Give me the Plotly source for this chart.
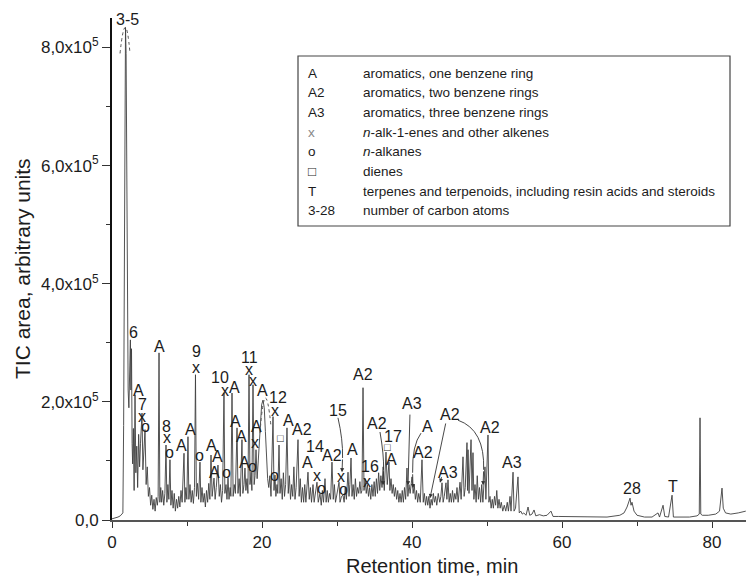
import plotly.graph_objects as go

# ---------------------------------------------------------------- data
# Total ion current of the pyrolysate; retention time in minutes,
# intensity in units of 1e5 (arbitrary TIC area units).
rt_min = [
    0.0, 0.4, 0.8, 1.1, 1.3, 1.45, 1.55, 1.65, 1.75, 1.8,
    1.88, 1.95, 2.05, 2.15, 2.25, 2.35, 2.45, 2.52, 2.6, 2.68,
    2.75, 2.85, 2.95, 3.07, 3.18, 3.3, 3.42, 3.55, 3.68, 3.8,
    4.0, 4.12, 4.25, 4.4, 4.55, 4.7, 4.85, 5.0, 5.15, 5.3,
    5.45, 5.6, 5.75, 5.9, 6.05, 6.15, 6.27, 6.38, 6.5, 6.62,
    6.75, 6.9, 7.05, 7.2, 7.32, 7.45, 7.58, 7.73, 7.85, 8.0,
    8.15, 8.3, 8.45, 8.6, 8.75, 8.9, 9.05, 9.2, 9.35, 9.6,
    9.72, 9.85, 9.98, 10.13, 10.25, 10.4, 10.55, 10.7, 10.85, 11.0,
    11.13, 11.25, 11.4, 11.55, 11.73, 11.85, 12.0, 12.15, 12.3, 12.45,
    12.6, 12.75, 12.9, 13.05, 13.2, 13.35, 13.6, 13.75, 13.9, 14.13,
    14.3, 14.45, 14.6, 14.75, 14.93, 15.05, 15.2, 15.33, 15.47, 15.6,
    15.75, 15.85, 16.0, 16.15, 16.3, 16.45, 16.67, 16.8, 16.95, 17.1,
    17.33, 17.45, 17.6, 17.73, 17.85, 18.0, 18.12, 18.27, 18.4, 18.55,
    18.65, 18.8, 18.95, 19.07, 19.2, 19.35, 19.5, 19.65, 19.8, 19.95,
    20.13, 20.3, 20.45, 20.6, 20.75, 20.9, 21.05, 21.2, 21.47, 21.6,
    21.73, 21.85, 22.0, 22.1, 22.27, 22.4, 22.55, 22.7, 22.85, 23.0,
    23.15, 23.33, 23.5, 23.65, 23.8, 23.95, 24.1, 24.25, 24.4, 24.55,
    24.8, 24.95, 25.1, 25.25, 25.4, 25.55, 25.7, 25.85, 26.13, 26.3,
    26.45, 26.6, 26.8, 26.95, 27.1, 27.33, 27.5, 27.73, 27.9, 28.05,
    28.2, 28.4, 28.55, 28.7, 28.85, 29.0, 29.15, 29.33, 29.5, 29.65,
    29.8, 30.0, 30.27, 30.4, 30.6, 30.8, 30.95, 31.1, 31.25, 31.47,
    31.6, 31.72, 31.87, 32.0, 32.15, 32.3, 32.45, 32.6, 32.75, 32.9,
    33.05, 33.2, 33.33, 33.47, 33.6, 33.75, 33.9, 34.05, 34.2, 34.35,
    34.5, 34.65, 34.8, 34.95, 35.1, 35.25, 35.4, 35.55, 35.7, 35.85,
    36.0, 36.15, 36.3, 36.53, 36.7, 36.93, 37.05, 37.2, 37.35, 37.5,
    37.65, 37.8, 37.95, 38.1, 38.25, 38.4, 38.55, 38.7, 38.85, 39.0,
    39.15, 39.33, 39.45, 39.6, 39.75, 40.0, 40.15, 40.3, 40.45, 40.6,
    40.75, 40.9, 41.1, 41.33, 41.5, 41.65, 41.8, 41.95, 42.1, 42.25,
    42.4, 42.55, 42.7, 42.85, 43.0, 43.15, 43.3, 43.5, 43.7, 43.85,
    44.0, 44.15, 44.3, 44.53, 44.65, 44.8, 44.95, 45.1, 45.25, 45.4,
    45.55, 45.7, 45.85, 46.0, 46.15, 46.4, 46.55, 46.8, 46.95, 47.1,
    47.33, 47.4, 47.47, 47.6, 47.87, 48.0, 48.13, 48.25, 48.4, 48.55,
    48.7, 48.85, 49.0, 49.15, 49.3, 49.45, 49.73, 49.85, 50.13, 50.25,
    50.4, 50.55, 50.7, 50.85, 51.0, 51.15, 51.3, 51.45, 51.6, 51.75,
    51.9, 52.1, 52.3, 52.5, 52.7, 52.85, 53.07, 53.2, 53.47, 53.6,
    53.8, 54.13, 54.3, 54.5, 54.7, 54.9, 55.2, 55.47, 55.7, 56.0,
    56.27, 56.5, 57.0, 57.5, 58.0, 58.53, 58.8, 59.5, 60.5, 62.0,
    64.0, 66.0, 67.7, 68.27, 68.67, 68.93, 69.07, 69.2, 69.33, 69.6,
    70.0, 71.0, 72.0, 72.8, 73.0, 73.47, 73.7, 74.2, 74.67, 74.85,
    75.5, 76.0, 77.0, 78.0, 78.3, 78.4, 78.5, 78.7, 79.5, 80.5,
    81.0, 81.33, 81.5, 81.8, 82.5, 83.5, 84.5,
]
tic_e5 = [
    0.02, 0.03, 0.05, 0.07, 0.09, 0.12, 1.6, 5.8, 8.1, 8.34,
    7.9, 6.0, 3.4, 2.2, 1.9, 2.6, 3.05, 2.2, 2.9, 1.3,
    0.95, 1.55, 0.5, 2.12, 0.8, 1.25, 0.55, 1.45, 0.9, 1.3,
    1.81, 0.85, 1.2, 1.53, 0.6, 0.9, 0.4, 0.55, 0.25, 0.42,
    0.18, 0.35, 0.15, 0.38, 0.25, 0.4, 2.83, 0.3, 0.55, 0.3,
    0.5, 0.25, 0.45, 1.27, 0.3, 0.6, 0.35, 1.02, 0.25, 0.5,
    0.2, 0.45, 0.15, 0.35, 0.2, 0.4, 0.22, 0.5, 0.3, 1.13,
    0.3, 0.55, 0.35, 1.41, 0.35, 0.6, 0.3, 0.5, 0.28, 0.55,
    2.46, 0.4, 0.62, 0.35, 0.98, 0.3, 0.55, 0.3, 0.45, 0.22,
    0.5, 0.3, 0.62, 0.35, 1.1, 0.4, 0.71, 0.35, 0.55, 0.93,
    0.4, 0.6, 0.3, 0.5, 2.15, 0.45, 0.6, 0.35, 0.71, 0.35,
    0.55, 0.4, 2.15, 0.4, 0.6, 0.45, 1.56, 0.45, 0.7, 0.4,
    1.36, 0.45, 0.6, 0.88, 0.5, 0.7, 0.45, 2.46, 0.6, 0.81,
    0.5, 2.29, 0.6, 0.75, 1.19, 0.7, 1.0, 1.3, 1.7, 1.95,
    2.03, 1.9, 1.5, 1.0, 0.7, 0.55, 0.75, 0.4, 1.75, 0.5,
    0.76, 0.4, 0.6, 0.45, 1.27, 0.45, 0.7, 0.35, 0.8, 0.4,
    0.6, 1.56, 0.45, 0.75, 0.35, 0.6, 0.4, 0.9, 0.35, 0.55,
    1.36, 0.4, 0.7, 0.3, 0.55, 0.3, 0.6, 0.3, 0.81, 0.35,
    0.55, 0.3, 0.6, 0.3, 0.45, 0.64, 0.3, 0.45, 0.25, 0.5,
    0.3, 0.7, 0.3, 0.5, 0.3, 0.45, 0.35, 0.98, 0.35, 0.6,
    0.3, 0.45, 0.64, 0.3, 0.4, 0.42, 0.3, 0.55, 0.35, 0.81,
    0.4, 0.6, 1.05, 0.4, 0.6, 0.35, 0.7, 0.4, 0.55, 0.45,
    0.65, 0.45, 0.5, 2.24, 0.5, 0.7, 0.45, 0.6, 0.4, 0.55,
    0.35, 0.6, 0.4, 0.65, 0.4, 0.7, 0.45, 0.8, 0.5, 0.75,
    0.55, 0.9, 0.5, 1.15, 0.6, 0.98, 0.5, 0.7, 0.45, 0.6,
    0.4, 0.55, 0.35, 0.5, 0.3, 0.45, 0.3, 0.5, 0.3, 0.55,
    0.35, 0.88, 0.4, 0.6, 0.45, 0.73, 0.45, 0.6, 0.35, 0.5,
    0.3, 0.45, 0.3, 1.02, 0.3, 0.45, 0.25, 0.4, 0.25, 0.4,
    0.2, 0.35, 0.25, 0.45, 0.3, 0.4, 0.25, 0.45, 0.3, 0.4,
    0.63, 0.3, 0.4, 0.63, 0.35, 0.68, 0.3, 0.45, 0.3, 0.5,
    0.3, 0.45, 0.35, 0.55, 0.3, 0.64, 0.35, 1.07, 0.4, 0.55,
    1.31, 0.5, 1.19, 0.45, 1.36, 0.5, 1.14, 0.35, 0.6, 0.3,
    0.75, 0.35, 0.55, 0.3, 0.6, 0.3, 0.9, 0.35, 1.44, 0.3,
    0.4, 0.2, 0.35, 0.2, 0.4, 0.25, 0.5, 0.2, 0.35, 0.2,
    0.3, 0.15, 0.25, 0.15, 0.3, 0.15, 0.4, 0.15, 0.81, 0.15,
    0.2, 0.73, 0.12, 0.15, 0.1, 0.12, 0.08, 0.22, 0.08, 0.1,
    0.17, 0.07, 0.09, 0.07, 0.08, 0.15, 0.06, 0.06, 0.06, 0.05,
    0.05, 0.05, 0.08, 0.12, 0.22, 0.3, 0.37, 0.25, 0.3, 0.15,
    0.08, 0.05, 0.05, 0.12, 0.05, 0.25, 0.06, 0.05, 0.42, 0.05,
    0.05, 0.06, 0.05, 0.07, 0.1, 1.73, 0.1, 0.08, 0.08, 0.1,
    0.15, 0.54, 0.2, 0.12, 0.1, 0.12, 0.15,
]
assert len(rt_min) == len(tic_e5)

# axis ticks
x_tickvals = [0, 20, 40, 60, 80]
y_tickvals = [0, 2, 4, 6, 8]
y_ticktext = ["0,0", "2,0x10<sup>5</sup>", "4,0x10<sup>5</sup>",
              "6,0x10<sup>5</sup>", "8,0x10<sup>5</sup>"]

# peak identifications: (label, retention time, label height in 1e5)
peak_labels = [
    ("3-5", 2.13, 8.47), ("6", 2.8, 3.17), ("A", 3.47, 2.2), ("7", 4.13, 1.95),
    ("x", 4.0, 1.75), ("o", 4.53, 1.58), ("A", 6.27, 2.93), ("8", 7.2, 1.58),
    ("x", 7.33, 1.39), ("o", 7.73, 1.14), ("A", 9.33, 1.27), ("A", 10.4, 1.53),
    ("9", 11.2, 2.85), ("x", 11.2, 2.59), ("o", 11.73, 1.1), ("A", 13.33, 1.27),
    ("A", 14.13, 1.08), ("A", 13.73, 0.81), ("o", 15.33, 0.81), ("10", 14.4, 2.41),
    ("x", 15.07, 2.2), ("A", 16.27, 2.25), ("A", 16.53, 1.66), ("A", 17.33, 1.41),
    ("A", 17.6, 0.97), ("o", 18.67, 0.9), ("11", 18.27, 2.76), ("x", 18.27, 2.54),
    ("x", 18.8, 2.37), ("A", 20.0, 2.2), ("A", 19.2, 1.58), ("x", 19.07, 1.31),
    ("12", 22.13, 2.07), ("x", 21.73, 1.86), ("A", 23.47, 1.69), ("\u25a1", 22.4, 1.39),
    ("o", 21.73, 0.76), ("A2", 25.33, 1.53), ("14", 27.07, 1.24), ("A", 26.13, 0.97),
    ("x", 27.33, 0.76), ("o", 27.87, 0.53), ("A2", 29.33, 1.1), ("A", 32.0, 1.19),
    ("15", 30.13, 1.86), ("x", 30.53, 0.73), ("o", 30.8, 0.51), ("A2", 33.47, 2.46),
    ("16", 34.4, 0.9), ("x", 34.0, 0.66), ("A2", 35.33, 1.64), ("17", 37.47, 1.41),
    ("\u25a1", 36.67, 1.24), ("A", 37.33, 1.02), ("A3", 40.0, 1.98), ("A", 42.0, 1.58),
    ("A2", 41.47, 1.14), ("A2", 45.07, 1.78), ("A3", 44.8, 0.8), ("A2", 50.4, 1.56),
    ("A3", 53.33, 0.97), ("28", 69.33, 0.54), ("T", 74.8, 0.56),
]

# key to the peak labels
legend_keys = ["A", "A2", "A3", "x", "o", "\u25a1", "T", "3-28"]
legend_desc = [
    "aromatics, one benzene ring",
    "aromatics, two benzene rings",
    "aromatics, three benzene rings",
    "<i>n</i>-alk-1-enes and other alkenes",
    "<i>n</i>-alkanes",
    "dienes",
    "terpenes and terpenoids, including resin acids and steroids",
    "number of carbon atoms",
]

FONT = "Arial, 'Liberation Sans', Helvetica, sans-serif"
INK = "#1c1c1c"

fig = go.Figure()
fig.add_trace(go.Scatter(
    x=rt_min, y=tic_e5, mode="lines",
    line=dict(color="#404040", width=0.9), hoverinfo="skip", showlegend=False,
))

annotations = []
for text, x, y in peak_labels:
    size = 11 if text == "\u25a1" else 16
    annotations.append(dict(
        x=x, y=y, xref="x", yref="y", text=text, showarrow=False,
        font=dict(family=FONT, size=size, color=INK),
        xanchor="center", yanchor="middle",
    ))

# straight leader arrows (tail -> head, data coordinates)
leaders = [
    ((39.73, 1.81), (39.47, 0.59)),
    ((44.53, 1.66), (42.4, 0.37)),
    ((44.0, 0.75), (43.73, 0.63)),
    # final segments of the curved leaders below
    ((30.74, 1.05), (30.67, 0.81)),
    ((36.2, 0.85), (36.13, 0.59)),
    ((40.08, 0.8), (40.13, 0.54)),
    ((49.55, 0.85), (49.47, 0.59)),
]
for (x0, y0), (x1, y1) in leaders:
    annotations.append(dict(
        x=x1, y=y1, ax=x0, ay=y0, xref="x", yref="y", axref="x", ayref="y",
        text="", showarrow=True, arrowhead=2, arrowsize=0.9, arrowwidth=0.9,
        arrowcolor="#333",
    ))

# curved leaders and dashed peak outlines
shapes = []
curves = [
    "M 30.13,1.73 Q 30.8,1.36 30.74,1.05",
    "M 35.73,1.49 Q 36.27,1.10 36.2,0.85",
    "M 41.2,1.47 Q 40.0,1.27 40.08,0.8",
    "M 46.13,1.69 Q 49.73,1.53 49.55,0.85",
]
for p in curves:
    shapes.append(dict(type="path", path=p, xref="x", yref="y",
                       line=dict(color="#333", width=0.9)))
outlines = [
    "M 1.07,7.9 Q 1.8,8.78 2.4,7.9",
    "M 19.73,1.47 Q 20.4,2.6 21.2,1.58",
]
for p in outlines:
    shapes.append(dict(type="path", path=p, xref="x", yref="y",
                       line=dict(color="#555", width=1, dash="dot")))

# key box
W, H, L, B = 634.0, 502.0, 112.0, 520.0


def px(xp, yp):
    return (xp - L) / W, (B - yp) / H


bx0, by0 = px(298, 226)
bx1, by1 = px(730, 56)
shapes.append(dict(type="rect", xref="paper", yref="paper",
                   x0=bx0, y0=by0, x1=bx1, y1=by1,
                   line=dict(color="#444", width=1.2), fillcolor="white"))
for i, (k, d) in enumerate(zip(legend_keys, legend_desc)):
    yp = 73 + 19.7 * i
    kx, ky = px(306, yp)
    dx, _ = px(361, yp)
    annotations.append(dict(
        x=kx, y=ky, xref="paper", yref="paper", text=k, showarrow=False,
        xanchor="left", yanchor="middle",
        font=dict(family=FONT, size=13.5, color="#888" if k == "x" else INK),
    ))
    annotations.append(dict(
        x=dx, y=ky, xref="paper", yref="paper", text=d, showarrow=False,
        xanchor="left", yanchor="middle",
        font=dict(family=FONT, size=13.5, color=INK),
    ))

# axis titles
tx, ty = px(432, 566)
annotations.append(dict(x=tx, y=ty, xref="paper", yref="paper",
                        text="Retention time, min", showarrow=False,
                        xanchor="center", yanchor="middle",
                        font=dict(family=FONT, size=20, color=INK)))
tx, ty = px(22, 269)
annotations.append(dict(x=tx, y=ty, xref="paper", yref="paper",
                        text="TIC area, arbitrary units", showarrow=False,
                        textangle=-90, xanchor="center", yanchor="middle",
                        font=dict(family=FONT, size=21, color=INK)))

fig.update_layout(
    width=746, height=579,
    margin=dict(l=112, r=0, t=18, b=59),
    paper_bgcolor="white", plot_bgcolor="white",
    font=dict(family=FONT, color=INK),
    showlegend=False,
    annotations=annotations,
    shapes=shapes,
    xaxis=dict(
        range=[0, 84.53], tickvals=x_tickvals, ticks="outside", ticklen=6,
        tickwidth=1.2, tickcolor="#333", showgrid=False, zeroline=False,
        showline=True, linecolor="#555", linewidth=1.5,
        tickfont=dict(family=FONT, size=17, color=INK),
        minor=dict(dtick=10, tick0=0, ticks="outside", ticklen=4,
                   tickcolor="#333", showgrid=False),
    ),
    yaxis=dict(
        range=[0, 8.5], tickvals=y_tickvals, ticktext=y_ticktext,
        ticks="outside", ticklen=8, tickwidth=1.2, tickcolor="#333",
        showgrid=False, zeroline=False, showline=True, linecolor="#111",
        linewidth=2, tickfont=dict(family=FONT, size=17, color=INK),
        minor=dict(dtick=1, tick0=0, ticks="outside", ticklen=4,
                   tickcolor="#333", showgrid=False),
    ),
)

fig.write_html("out.html")
